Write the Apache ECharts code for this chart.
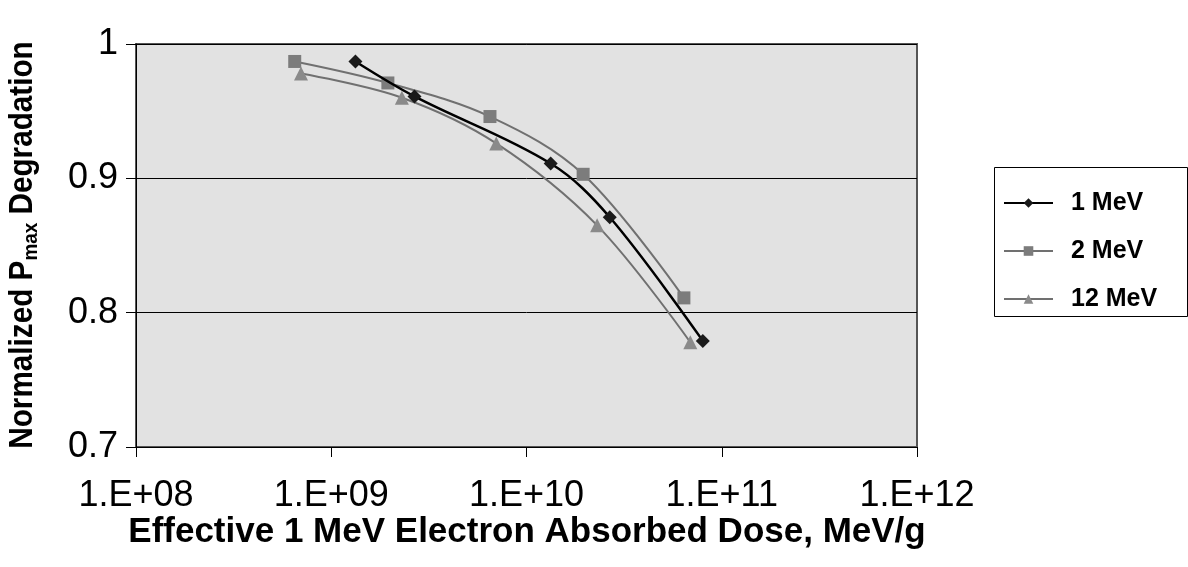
<!DOCTYPE html>
<html>
<head>
<meta charset="utf-8">
<script src="https://cdn.jsdelivr.net/npm/echarts@6/dist/echarts.min.js"></script>
<style>
  html, body { margin: 0; padding: 0; background: #fff; }
  #chart { width: 1188px; height: 567px; }
</style>
</head>
<body>
<div id="chart"></div>
<script>
// Dose values (MeV/g) and normalized Pmax for each electron energy
const dose1MeV  = [1.33e9, 2.67e9, 1.33e10, 2.67e10, 8.0e10];
const pmax1MeV  = [0.987, 0.961, 0.911, 0.871, 0.779];

const dose2MeV  = [6.5e8, 1.95e9, 6.5e9, 1.95e10, 6.4e10];
const pmax2MeV  = [0.987, 0.971, 0.946, 0.903, 0.811];

const dose12MeV = [7.0e8, 2.3e9, 7.0e9, 2.3e10, 6.9e10];
const pmax12MeV = [0.978, 0.960, 0.926, 0.865, 0.778];

const seriesNames = ['1 MeV', '2 MeV', '12 MeV'];

// Axis ranges / ticks
const xMin = 1e8, xMax = 1e12;
const yTicks = [0.7, 0.8, 0.9, 1];

const FONT = 'Liberation Sans, Arial, sans-serif';

function pairs(xs, ys) { return xs.map((x, i) => [x, ys[i]]); }

const chart = echarts.init(document.getElementById('chart'), null, { renderer: 'canvas' });

chart.setOption({
  backgroundColor: '#ffffff',
  animation: false,
  grid: {
    left: 136, right: 271, top: 44, bottom: 120,
    show: true,
    backgroundColor: '#e2e2e2',
    borderColor: '#555555',
    borderWidth: 2
  },
  xAxis: {
    type: 'log',
    logBase: 10,
    min: xMin,
    max: xMax,
    axisLine: { show: true, onZero: false, lineStyle: { color: '#000', width: 1 } },
    axisTick: { show: true, inside: false, length: 10, lineStyle: { color: '#000' } },
    minorTick: { show: false },
    splitLine: { show: false },
    axisLabel: {
      margin: 31,
      color: '#000',
      fontFamily: FONT,
      fontSize: 36,
      formatter: v => '1.E+' + String(Math.round(Math.log10(v))).padStart(2, '0')
    }
  },
  yAxis: {
    type: 'value',
    min: yTicks[0],
    max: yTicks[yTicks.length - 1],
    interval: 0.1,
    axisLine: { show: true, lineStyle: { color: '#000', width: 1 } },
    axisTick: { show: true, inside: false, length: 10, lineStyle: { color: '#000' } },
    splitLine: { show: true, lineStyle: { color: '#000', width: 1 } },
    axisLabel: {
      margin: 18,
      color: '#000',
      fontFamily: FONT,
      fontSize: 36,
      formatter: v => (Math.abs(v - 1) < 1e-9 ? '1' : v.toFixed(1))
    }
  },
  legend: {
    orient: 'vertical',
    left: 1003,
    top: 189,
    itemWidth: 49,
    itemHeight: 12,
    itemGap: 20,
    padding: 0,
    data: seriesNames,
    textStyle: {
      fontFamily: FONT,
      fontSize: 25,
      fontWeight: 'bold',
      color: '#000',
      lineHeight: 28,
      padding: [0, 0, 0, 13]
    }
  },
  graphic: [
    {
      type: 'rect',
      left: 994, top: 167,
      shape: { width: 193, height: 149 },
      style: { fill: '#fff', stroke: '#000', lineWidth: 1 },
      z: -1
    },
    {
      type: 'text',
      x: 527, y: 532,
      style: {
        text: 'Effective 1 MeV Electron Absorbed Dose, MeV/g',
        font: 'bold 35px ' + FONT,
        fill: '#000',
        align: 'center',
        verticalAlign: 'middle'
      }
    },
    {
      type: 'text',
      x: 23, y: 245,
      rotation: Math.PI / 2,
      scaleX: 0.9,
      style: {
        text: '{a|Normalized P}{s|max}{a| Degradation}',
        align: 'center',
        verticalAlign: 'middle',
        rich: {
          a: { font: 'bold 33px ' + FONT, fill: '#000', lineHeight: 38, verticalAlign: 'middle' },
          s: { font: 'bold 21px ' + FONT, fill: '#000', lineHeight: 38, verticalAlign: 'bottom', padding: [11, 0, 0, 0] }
        }
      }
    }
  ],
  series: [
    {
      name: seriesNames[0],
      type: 'line',
      smooth: 0.35,
      data: pairs(dose1MeV, pmax1MeV),
      symbol: 'diamond',
      symbolSize: 14,
      lineStyle: { color: '#000', width: 2.5 },
      itemStyle: { color: '#1a1a1a' },
      z: 4
    },
    {
      name: seriesNames[1],
      type: 'line',
      smooth: 0.35,
      data: pairs(dose2MeV, pmax2MeV),
      symbol: 'rect',
      symbolSize: 13,
      lineStyle: { color: '#707070', width: 2 },
      itemStyle: { color: '#7c7c7c' },
      z: 3
    },
    {
      name: seriesNames[2],
      type: 'line',
      smooth: 0.35,
      data: pairs(dose12MeV, pmax12MeV),
      symbol: 'triangle',
      symbolSize: 14,
      lineStyle: { color: '#707070', width: 2 },
      itemStyle: { color: '#8a8a8a' },
      z: 3
    }
  ]
});
</script>
</body>
</html>
